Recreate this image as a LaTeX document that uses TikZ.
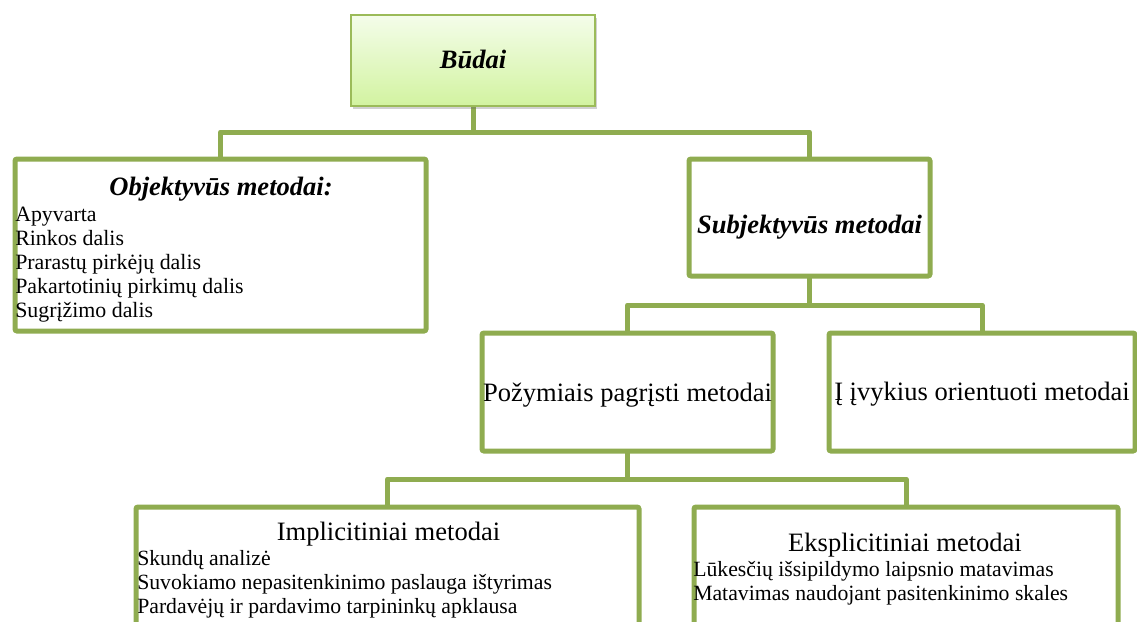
\documentclass[tikz,border=0pt]{standalone}
\usepackage{fontspec}
\setmainfont{Liberation Serif}
\usetikzlibrary{shadows,backgrounds}

\definecolor{frame}{RGB}{143,172,80}
\definecolor{rootframe}{RGB}{155,187,89}
\definecolor{rootA}{RGB}{244,253,234}
\definecolor{rootB}{RGB}{210,243,160}

\tikzset{
  box/.style={draw=frame, line width=3.75pt, fill=white, rounded corners=1.5pt,
              inner sep=0pt, outer sep=0pt},
  rootbox/.style={draw=rootframe, line width=1.5pt, top color=rootA, bottom color=rootB,
              inner sep=0pt, outer sep=0pt,
              drop shadow={shadow xshift=1.2pt, shadow yshift=-2pt, opacity=0.3, fill=black!60}},
  link/.style={draw=frame, line width=3.75pt, line join=round},
  title/.style={inner sep=0pt, anchor=base, font=\fontsize{19.9pt}{24pt}\selectfont\bfseries\itshape},
  heading/.style={inner sep=0pt, anchor=base, font=\fontsize{19.9pt}{24pt}\selectfont},
  item/.style={inner sep=0pt, anchor=base west, font=\fontsize{16.4pt}{19pt}\selectfont},
  subitem/.style={inner sep=0pt, anchor=base west, font=\fontsize{16.3pt}{19pt}\selectfont},
}

\begin{document}
\begin{tikzpicture}[x=0.75pt, y=-0.75pt]
  \useasboundingbox (0,0) rectangle (1137,621);
  \clip (0,0) rectangle (1137,621);

  % boxes (centre line of the frame)
  \node[rootbox, minimum width=244*0.75pt, minimum height=91*0.75pt] (budai) at (473,60.5) {};
  \node[box, minimum width=411*0.75pt, minimum height=172*0.75pt] (obj) at (220.5,245) {};
  \node[box, minimum width=241*0.75pt, minimum height=117*0.75pt] (subj) at (809.5,217.5) {};
  \node[box, minimum width=291*0.75pt, minimum height=118*0.75pt] (poz) at (627.5,392) {};
  \node[box, minimum width=306*0.75pt, minimum height=118*0.75pt] (ivy) at (982,392) {};
  \node[box, minimum width=503*0.75pt, minimum height=213*0.75pt] (impl) at (387.5,613.5) {};
  \node[box, minimum width=424*0.75pt, minimum height=213*0.75pt] (eksp) at (906,613.5) {};

  % junctions of the tree connectors
  \coordinate (j1) at (473,132);
  \coordinate (j2) at (809.5,305);
  \coordinate (j3) at (627.5,479);

  \begin{scope}[on background layer]
    \draw[link] (obj.north) |- (j1) -| (subj.north);
    \draw[link] (budai.south) -- (j1);
    \draw[link] (poz.north) |- (j2) -| (ivy.north);
    \draw[link] (subj.south) -- (j2);
    \draw[link] (impl.north) |- (j3) -| (eksp.north);
    \draw[link] (poz.south) -- (j3);
  \end{scope}

  % texts
  \node[title] (t-budai) at (473,68) {Būdai};

  \node[title] (t-obj) at (221,195) {Objektyvūs metodai:};
  \foreach \txt [count=\i] in {Apyvarta, Rinkos dalis, Prarastų pirkėjų dalis,
      Pakartotinių pirkimų dalis, Sugrįžimo dalis}
    \node[item] (obj-\i) at (15,{221+24.2*(\i-1)}) {\txt};

  \node[title] (t-subj) at (809.5,233) {Subjektyvūs metodai};

  \node[heading] (t-poz) at (627.5,401) {Požymiais pagrįsti metodai};
  \node[heading] (t-ivy) at (982,400) {Į įvykius orientuoti metodai};

  \node[heading] (t-impl) at (388.5,540) {Implicitiniai metodai};
  \foreach \txt [count=\i] in {Skundų analizė, Suvokiamo nepasitenkinimo paslauga ištyrimas,
      Pardavėjų ir pardavimo tarpininkų apklausa}
    \node[subitem] (impl-\i) at (137,{565+24*(\i-1)}) {\txt};

  \node[heading] (t-eksp) at (905,551) {Eksplicitiniai metodai};
  \foreach \txt [count=\i] in {Lūkesčių išsipildymo laipsnio matavimas,
      Matavimas naudojant pasitenkinimo skales}
    \node[subitem] (eksp-\i) at (693,{576+24*(\i-1)}) {\txt};
\end{tikzpicture}
\end{document}
